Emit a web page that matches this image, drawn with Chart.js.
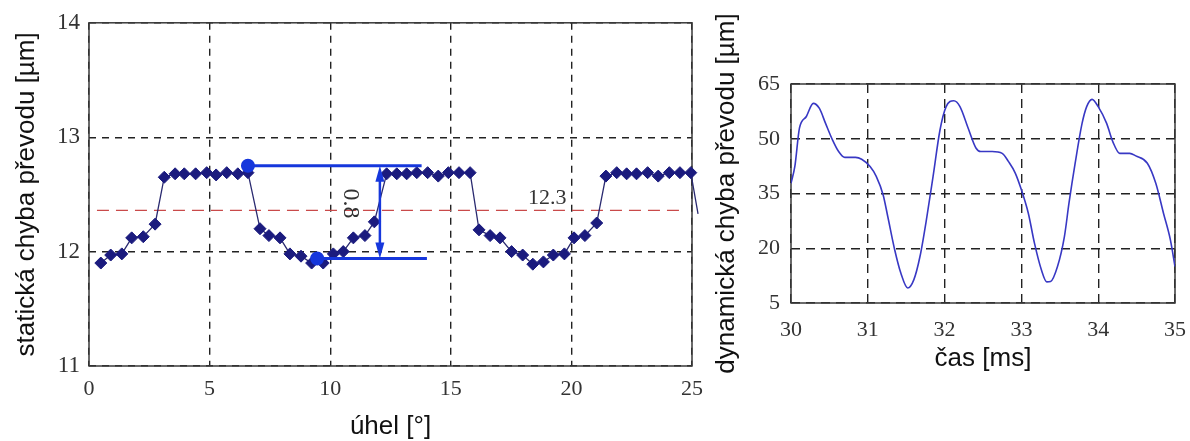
<!DOCTYPE html>
<html>
<head>
<meta charset="utf-8">
<script src="https://cdn.jsdelivr.net/npm/chart.js@4.4.1/dist/chart.umd.min.js"></script>
<style>
  html, body { margin: 0; padding: 0; background: #fff; overflow: hidden; width: 1190px; height: 441px; }
  #left { position: absolute; left: 0; top: 0; width: 720px; height: 441px; }
  #right { position: absolute; left: 700px; top: 0; width: 500px; height: 441px; }
</style>
</head>
<body>
<div id="left"><canvas id="static-chart"></canvas></div>
<div id="right"><canvas id="dynamic-chart"></canvas></div>
<script>
// ------------------------------------------------------------
// Data
// ------------------------------------------------------------

// Static transmission error vs. angle (left chart)
const angleDeg = [0.49, 0.90, 1.36, 1.77, 2.25, 2.74,
  3.12, 3.57, 3.95, 4.42, 4.88, 5.27, 5.71, 6.17, 6.59,
  7.09, 7.46, 7.92, 8.33, 8.79, 9.23, 9.71, 10.13, 10.54, 10.96, 11.44, 11.83,
  12.34, 12.76, 13.17, 13.59, 14.04, 14.48, 14.90, 15.34, 15.80,
  16.17, 16.63, 17.04, 17.52, 17.98, 18.40, 18.84, 19.25, 19.71, 20.11, 20.56, 21.05,
  21.43, 21.88, 22.29, 22.70, 23.16, 23.60, 24.06, 24.50, 24.95, 25.25];
const staticErr = [11.90, 11.97, 11.98, 12.12, 12.13, 12.24,
  12.65, 12.68, 12.68, 12.68, 12.69, 12.67, 12.69, 12.68, 12.69,
  12.20, 12.14, 12.12, 11.98, 11.96, 11.90, 11.90, 11.98, 12.00, 12.12, 12.14, 12.26,
  12.68, 12.68, 12.68, 12.69, 12.69, 12.66, 12.69, 12.69, 12.69,
  12.19, 12.14, 12.12, 12.00, 11.97, 11.89, 11.91, 11.97, 11.98, 12.12, 12.14, 12.25,
  12.66, 12.69, 12.68, 12.68, 12.69, 12.66, 12.69, 12.69, 12.69, 12.33];

const angleTicks = [0, 5, 10, 15, 20, 25];
const staticTicks = [11, 12, 13, 14];

// Mean level (red dashed) and its label
const meanLevel = 12.36;
const meanSpan = [0.33, 24.6];
const meanLabel = '12.3';
const meanLabelAt = [19.0, 12.47];

// Peak-to-peak marker
const gapTop = 12.75;
const gapBottom = 11.94;
const gapTopSpan = [6.59, 13.79];
const gapBottomSpan = [9.46, 14.01];
const gapX = 12.06;
const gapLabel = '0.8';
const gapLabelAt = [10.82, 12.42];

// Dynamic transmission error vs. time (right chart)
const timeMs = [30.00, 30.05, 30.11, 30.20, 30.29, 30.37, 30.45, 30.54, 30.62, 30.70,
  30.84, 30.92, 31.03, 31.11, 31.20, 31.26, 31.35, 31.43, 31.52, 31.60,
  31.68, 31.77, 31.85, 31.94, 32.02, 32.12, 32.20, 32.30, 32.41, 32.47,
  32.62, 32.75, 32.83, 32.92, 33.00, 33.09, 33.17, 33.26, 33.33, 33.38,
  33.47, 33.56, 33.62, 33.70, 33.79, 33.85, 33.92, 34.00, 34.11, 34.19,
  34.28, 34.41, 34.49, 34.64, 34.75, 34.85, 34.94, 35.00];
const dynErr = [37.8, 42.4, 52.9, 56.1, 59.7, 58.3, 54.2, 49.7, 46.5, 44.9,
  44.9, 44.4, 42.4, 39.7, 34.6, 28.7, 19.6, 13.2, 9.1, 11.4,
  17.8, 28.7, 39.7, 52.4, 58.8, 60.4, 58.8, 53.3, 47.4, 46.5,
  46.5, 46.0, 43.8, 40.6, 36.0, 29.6, 21.4, 14.1, 10.8, 10.9,
  15.0, 23.2, 32.4, 43.3, 54.2, 58.8, 60.8, 58.8, 54.2, 49.2,
  46.0, 46.0, 45.3, 43.3, 37.8, 29.6, 22.3, 15.0];

const timeTicks = [30, 31, 32, 33, 34, 35];
const dynTicks = [5, 20, 35, 50, 65];

// ------------------------------------------------------------
// Shared look
// ------------------------------------------------------------
Chart.defaults.font.family = "'Liberation Serif', serif";
Chart.defaults.color = '#333333';

const NAVY = '#1b1b7e';
const MARK_BLUE = '#1637dc';
const CURVE_BLUE = '#3838c4';
const SERIF = "'Liberation Serif', serif";
const SANS = "'Liberation Sans', Arial, sans-serif";

// Solid box around the plot area
const framePlugin = {
  id: 'frame',
  beforeDatasetsDraw(chart) {
    const { ctx, chartArea: a } = chart;
    ctx.save();
    ctx.strokeStyle = '#3a3a3a';
    ctx.lineWidth = 1.5;
    ctx.strokeRect(a.left, a.top, a.right - a.left, a.bottom - a.top);
    ctx.restore();
  }
};

// Texts and the double arrow on the left chart
const markerPlugin = {
  id: 'marker',
  afterDatasetsDraw(chart) {
    const { ctx, scales: { x, y } } = chart;
    const px = x.getPixelForValue(gapX);
    const pTop = y.getPixelForValue(gapTop);
    const pBot = y.getPixelForValue(gapBottom);
    ctx.save();
    ctx.strokeStyle = MARK_BLUE;
    ctx.fillStyle = MARK_BLUE;
    ctx.lineWidth = 2.5;
    ctx.beginPath();
    ctx.moveTo(px, pTop + 10);
    ctx.lineTo(px, pBot - 10);
    ctx.stroke();
    [[pTop, 1], [pBot, -1]].forEach(([py, dir]) => {
      ctx.beginPath();
      ctx.moveTo(px, py);
      ctx.lineTo(px - 4.5, py + dir * 16);
      ctx.lineTo(px + 4.5, py + dir * 16);
      ctx.closePath();
      ctx.fill();
    });

    ctx.fillStyle = '#333333';
    ctx.textAlign = 'center';
    ctx.textBaseline = 'middle';
    ctx.font = '22px ' + SERIF;
    ctx.fillText(meanLabel, x.getPixelForValue(meanLabelAt[0]), y.getPixelForValue(meanLabelAt[1]));

    ctx.translate(x.getPixelForValue(gapLabelAt[0]), y.getPixelForValue(gapLabelAt[1]));
    ctx.rotate(Math.PI / 2);
    ctx.font = '24px ' + SERIF;
    ctx.fillText(gapLabel, 0, 0);
    ctx.restore();
  }
};

function fixWidth(w) { return scale => { scale.width = w; }; }
function fixHeight(h) { return scale => { scale.height = h; }; }
function ticksFrom(list) { return scale => { scale.ticks = list.map(v => ({ value: v })); }; }

const gridOpts = {
  color: '#222222',
  lineWidth: 1.4,
  drawTicks: false
};

// ------------------------------------------------------------
// Left chart: static error
// ------------------------------------------------------------
const staticPoints = angleDeg.map((a, i) => ({ x: a, y: staticErr[i] }));
const lastIdx = staticPoints.length - 1;

new Chart(document.getElementById('static-chart').getContext('2d'), {
  type: 'scatter',
  data: {
    datasets: [
      {
        data: [{ x: meanSpan[0], y: meanLevel }, { x: meanSpan[1], y: meanLevel }],
        showLine: true,
        borderColor: '#c94a4a',
        borderWidth: 1.4,
        borderDash: [12, 7],
        pointRadius: 0,
        order: 5
      },
      {
        data: staticPoints,
        showLine: true,
        borderColor: '#2a2a70',
        borderWidth: 1.3,
        pointStyle: 'rectRot',
        pointRadius: ctx => (ctx.dataIndex === lastIdx ? 0 : 6),
        pointBackgroundColor: NAVY,
        pointBorderColor: NAVY,
        pointBorderWidth: 1,
        clip: false,
        order: 3
      },
      {
        data: [{ x: gapTopSpan[0], y: gapTop }, { x: gapTopSpan[1], y: gapTop }],
        showLine: true,
        borderColor: MARK_BLUE,
        borderWidth: 3,
        pointRadius: [5.5, 0],
        pointBackgroundColor: MARK_BLUE,
        pointBorderColor: MARK_BLUE,
        order: 1
      },
      {
        data: [{ x: gapBottomSpan[0], y: gapBottom }, { x: gapBottomSpan[1], y: gapBottom }],
        showLine: true,
        borderColor: MARK_BLUE,
        borderWidth: 3,
        pointRadius: [5.5, 0],
        pointBackgroundColor: MARK_BLUE,
        pointBorderColor: MARK_BLUE,
        order: 2
      }
    ]
  },
  options: {
    responsive: true,
    maintainAspectRatio: false,
    animation: false,
    layout: { padding: { top: 22, right: 28, left: 0, bottom: 0 } },
    plugins: { legend: { display: false }, tooltip: { enabled: false } },
    scales: {
      x: {
        type: 'linear',
        min: 0,
        max: 25,
        afterBuildTicks: ticksFrom(angleTicks),
        afterFit: fixHeight(75),
        grid: gridOpts,
        border: { display: false, dash: [7, 6] },
        ticks: { padding: 10, font: { size: 22 }, color: '#333333' },
        title: {
          display: true,
          text: 'úhel [°]',
          font: { family: SANS, size: 26, lineHeight: 1 },
          color: '#111111',
          padding: { top: 0, bottom: 1 }
        }
      },
      y: {
        type: 'linear',
        min: 11,
        max: 14,
        afterBuildTicks: ticksFrom(staticTicks),
        afterFit: fixWidth(89),
        grid: gridOpts,
        border: { display: false, dash: [7, 6] },
        ticks: { padding: 9, font: { size: 23 }, color: '#333333' },
        title: {
          display: true,
          text: 'statická chyba převodu [µm]',
          font: { family: SANS, size: 26, lineHeight: 1 },
          color: '#111111',
          padding: { top: 14, bottom: 0 }
        }
      }
    }
  },
  plugins: [framePlugin, markerPlugin]
});

// ------------------------------------------------------------
// Right chart: dynamic error
// ------------------------------------------------------------
new Chart(document.getElementById('dynamic-chart').getContext('2d'), {
  type: 'scatter',
  data: {
    datasets: [{
      data: timeMs.map((t, i) => ({ x: t, y: dynErr[i] })),
      showLine: true,
      borderColor: CURVE_BLUE,
      borderWidth: 1.6,
      cubicInterpolationMode: 'monotone',
      pointRadius: 0
    }]
  },
  options: {
    responsive: true,
    maintainAspectRatio: false,
    animation: false,
    layout: { padding: { top: 84, right: 17, left: 0, bottom: 0 } },
    plugins: { legend: { display: false }, tooltip: { enabled: false } },
    scales: {
      x: {
        type: 'linear',
        min: 30,
        max: 35,
        afterBuildTicks: ticksFrom(timeTicks),
        afterFit: fixHeight(138),
        grid: gridOpts,
        border: { display: false, dash: [9, 6] },
        ticks: { padding: 14, font: { size: 22 }, color: '#333333' },
        title: {
          display: true,
          text: 'čas [ms]',
          font: { family: SANS, size: 26, lineHeight: 1 },
          color: '#111111',
          padding: { top: 0, bottom: 69 }
        }
      },
      y: {
        type: 'linear',
        min: 5,
        max: 65,
        afterBuildTicks: ticksFrom(dynTicks),
        afterFit: fixWidth(91),
        grid: gridOpts,
        border: { display: false, dash: [9, 6] },
        ticks: { padding: 11, font: { size: 22 }, color: '#333333' },
        title: {
          display: true,
          text: 'dynamická chyba převodu [µm]',
          font: { family: SANS, size: 26, lineHeight: 1 },
          color: '#111111',
          padding: { top: 14, bottom: 0 }
        }
      }
    }
  },
  plugins: [framePlugin]
});
</script>
</body>
</html>
